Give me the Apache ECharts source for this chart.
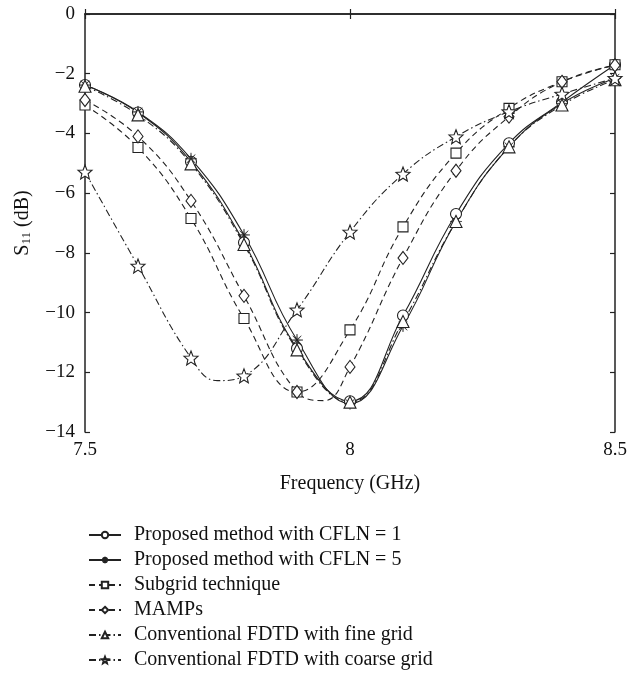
<!DOCTYPE html>
<html>
<head>
<meta charset="utf-8">
<script src="https://cdn.jsdelivr.net/npm/echarts@6/dist/echarts.min.js"></script>
<style>
  html, body { margin: 0; padding: 0; background: #fff; }
  #chart { width: 640px; height: 678px; }
</style>
</head>
<body>
<div id="chart"></div>
<script>
// frequency points where markers are drawn (GHz)
const freq = [7.5, 7.6, 7.7, 7.8, 7.9, 8.0, 8.1, 8.2, 8.3, 8.4, 8.5];

// S11 (dB)
const cfln1   = [-2.38, -3.30, -4.95, -7.65, -11.20, -12.97, -10.10, -6.70, -4.33, -2.95, -1.70];
const cfln5   = [-2.38, -3.28, -4.85, -7.40, -10.92, -13.05, -10.45, -6.95, -4.45, -3.00, -2.15];
const subgrid = [-3.05, -4.47, -6.85, -10.20, -12.66, -10.58, -7.13, -4.66, -3.16, -2.27, -1.70];
const mamps   = [-2.88, -4.10, -6.26, -9.44, -12.66, -11.82, -8.17, -5.25, -3.44, -2.27, -1.72];
const fine    = [-2.42, -3.38, -5.02, -7.72, -11.25, -13.00, -10.30, -6.95, -4.45, -3.05, -2.20];
const coarse  = [-5.29, -8.44, -11.52, -12.12, -9.91, -7.30, -5.36, -4.11, -3.27, -2.68, -2.15];

// extra curve points (no marker) read where the curves dip between markers
const mampsDip  = [[7.95, -12.95]];
const coarseDip = [[7.75, -12.28]];

const names = [
  "Proposed method with CFLN = 1",
  "Proposed method with CFLN = 5",
  "Subgrid technique",
  "MAMPs",
  "Conventional FDTD with fine grid",
  "Conventional FDTD with coarse grid",
];

const xTicks = [7.5, 8, 8.5];
const yTicks = [0, -2, -4, -6, -8, -10, -12, -14];

const FONT = '"Liberation Serif", "DejaVu Serif", serif';
const INK = "#222";

const starPath = "path://M50,0 L62.9,32.2 L97.6,34.5 L70.9,56.8 L79.4,90.5 L50,72 L20.6,90.5 L29.1,56.8 L2.4,34.5 L37.1,32.2 Z";
const asteriskPath = "path://M100,50 L57.4,53.1 L85.4,85.4 L53.1,57.4 L50,100 L46.9,57.4 L14.6,85.4 L42.6,53.1 L0,50 L42.6,46.9 L14.6,14.6 L46.9,42.6 L50,0 L53.1,42.6 L85.4,14.6 L57.4,46.9 Z";

function build(vals, extra) {
  const pts = freq.map((f, i) => ({ value: [f, vals[i]] }));
  (extra || []).forEach((p) => pts.push({ value: p, symbol: "none" }));
  pts.sort((a, b) => a.value[0] - b.value[0]);
  return pts;
}

function makeSeries(name, data, symbol, size, dash, filled) {
  return {
    name: name,
    type: "line",
    data: data,
    smooth: 0.45,
    symbol: symbol,
    symbolSize: size,
    showAllSymbol: true,
    lineStyle: { color: INK, width: 1.1, type: dash },
    itemStyle: {
      color: filled ? INK : "#fff",
      borderColor: INK,
      borderWidth: filled ? 0.5 : 1.1,
    },
    emphasis: { disabled: true },
    z: 3,
  };
}

const chart = echarts.init(document.getElementById("chart"));

const option = {
  animation: false,
  backgroundColor: "#fff",
  grid: { left: 85, right: 25, top: 14, bottom: 246 },
  legend: {
    orient: "vertical",
    left: 83,
    top: 520,
    itemWidth: 32,
    itemHeight: 8,
    itemGap: 5,
    data: names,
    textStyle: { fontFamily: FONT, fontSize: 20, color: "#111", lineHeight: 20, padding: [0, 0, 0, 8] },
  },
  xAxis: [
    {
      type: "value",
      min: 7.5,
      max: 8.5,
      interval: 0.5,
      name: "Frequency (GHz)",
      nameLocation: "middle",
      nameGap: 42,
      nameTextStyle: { fontFamily: FONT, fontSize: 20, color: "#111" },
      axisLine: { lineStyle: { color: INK, width: 1.5 } },
      axisTick: { inside: true, length: 5, lineStyle: { color: INK, width: 1.2 } },
      axisLabel: {
        fontFamily: FONT, fontSize: 19, color: "#111", margin: 9,
        formatter: (v) => (xTicks.includes(v) ? String(v) : ""),
      },
      splitLine: { show: false },
    },
    {
      type: "value",
      position: "top",
      min: 7.5,
      max: 8.5,
      interval: 0.5,
      axisLine: { lineStyle: { color: INK, width: 1.5 } },
      axisTick: { inside: true, length: 5, lineStyle: { color: INK, width: 1.2 } },
      axisLabel: { show: false },
      splitLine: { show: false },
    },
  ],
  yAxis: [
    {
      type: "value",
      min: -14,
      max: 0,
      interval: 2,
      name: "{s|S}{sub|11}{s| (dB)}",
      nameLocation: "middle",
      nameGap: 52,
      nameTextStyle: {
        fontFamily: FONT, fontSize: 20, color: "#111",
        rich: {
          s: { fontFamily: FONT, fontSize: 20, color: "#111", verticalAlign: "bottom" },
          sub: { fontFamily: FONT, fontSize: 13, color: "#111", verticalAlign: "bottom", padding: [9, 0, 0, 0] },
        },
      },
      axisLine: { show: true, lineStyle: { color: INK, width: 1.5 } },
      axisTick: { show: true, inside: true, length: 5, lineStyle: { color: INK, width: 1.2 } },
      axisLabel: {
        fontFamily: FONT, fontSize: 19, color: "#111", margin: 10,
        formatter: (v) => (yTicks.includes(v) ? String(v).replace("-", "\u2212") : ""),
      },
      splitLine: { show: false },
    },
    {
      type: "value",
      position: "right",
      min: -14,
      max: 0,
      interval: 2,
      axisLine: { show: true, lineStyle: { color: INK, width: 1.5 } },
      axisTick: { show: true, inside: true, length: 5, lineStyle: { color: INK, width: 1.2 } },
      axisLabel: { show: false },
      splitLine: { show: false },
    },
  ],
  series: [
    makeSeries(names[0], build(cfln1), "circle", 11, "solid", false),
    makeSeries(names[1], build(cfln5), asteriskPath, 12, "solid", true),
    makeSeries(names[2], build(subgrid), "rect", 10, [6, 4], false),
    makeSeries(names[3], build(mamps, mampsDip), "diamond", [10, 13], [6, 4], false),
    makeSeries(names[4], build(fine), "triangle", 12, [7, 3, 1.5, 3], false),
    makeSeries(names[5], build(coarse, coarseDip), starPath, 14, [7, 3, 1.5, 3], false),
  ],
};

chart.setOption(option);
</script>
</body>
</html>
